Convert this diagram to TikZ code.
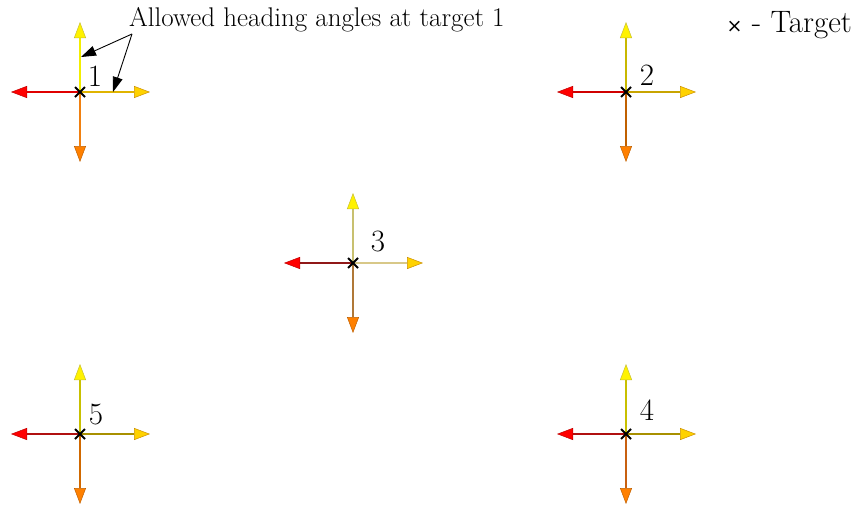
\documentclass[tikz,border=0pt]{standalone}
\usepackage{fontspec}
\newfontfamily\dejavu{DejaVu Sans}
\usetikzlibrary{arrows.meta}
\definecolor{u1}{HTML}{F2EE00}\definecolor{r1}{HTML}{E0B400}\definecolor{l1}{HTML}{E00000}\definecolor{d1}{HTML}{F08010}
\definecolor{u2}{HTML}{C8B800}\definecolor{r2}{HTML}{C8A400}\definecolor{l2}{HTML}{D00000}\definecolor{d2}{HTML}{C06000}
\definecolor{u3}{HTML}{C8C070}\definecolor{r3}{HTML}{D8C888}\definecolor{l3}{HTML}{901818}\definecolor{d3}{HTML}{B07838}
\definecolor{u4}{HTML}{C8C000}\definecolor{r4}{HTML}{A89000}\definecolor{l4}{HTML}{B01010}\definecolor{d4}{HTML}{C86010}
\definecolor{u5}{HTML}{C8C000}\definecolor{r5}{HTML}{A89000}\definecolor{l5}{HTML}{B01010}\definecolor{d5}{HTML}{D06800}
\begin{document}
\begin{tikzpicture}[x=1pt,y=-1pt,
  txt/.style={font=\fontsize{27}{32}\selectfont, inner sep=0pt},
  big/.style={font=\fontsize{31}{36}\selectfont, inner sep=0pt},
  hd/.style={line width=1.6pt},
  ahu/.style={-{Triangle[length=16pt,width=12pt,line width=0.5pt,color=yellow!75!black,fill=yellow]}},
  ahr/.style={-{Triangle[length=16pt,width=12pt,line width=0.5pt,color=orange!60!yellow!80!black,fill={rgb,255:red,255;green,210;blue,0}]}},
  ahl/.style={-{Triangle[length=16pt,width=12pt,line width=0.5pt,color=red!75!black,fill=red]}},
  ahd/.style={-{Triangle[length=16pt,width=12pt,line width=0.5pt,color=orange!75!black,fill={rgb,255:red,255;green,128;blue,0}]}},
  crs/.style={line width=1.8pt, black},
  annarr/.style={line width=0.9pt, black, -{Triangle[length=15pt,width=10pt]}}]
\useasboundingbox (0,0) rectangle (857,506);
\foreach \n/\x/\y/\lx/\ly in {1/80/92/95/76, 2/626/92/647/75, 3/353/263/378/242, 4/626/434/647/410, 5/80/434/96/415}{
  \coordinate (t\n) at (\x,\y);
  \coordinate (t\n u) at (\x,\y-70);
  \coordinate (t\n d) at (\x,\y+70);
  \coordinate (t\n l) at (\x-69,\y);
  \coordinate (t\n r) at (\x+70,\y);
  \draw[hd, draw=u\n, ahu] (t\n) -- (t\n u);
  \draw[hd, draw=r\n, ahr] (t\n) -- (t\n r);
  \draw[hd, draw=l\n, ahl] (t\n) -- (t\n l);
  \draw[hd, draw=d\n, ahd] (t\n) -- (t\n d);
  \draw[crs, shift={(t\n)}] (-5,-5) -- (5,5) (-5,5) -- (5,-5);
  \node[big] (n\n) at (\lx,\ly) {\n};
}
\node[txt, anchor=base west] (ann) at (129,26) {Allowed heading angles at target 1};
\coordinate (annA) at (132,34);
\coordinate (p1a) at (81,57);
\coordinate (p1b) at (113,92);
\draw[annarr] (annA) -- (p1a);
\draw[annarr] (annA) -- (p1b);
\node[big, anchor=base east] (leg) at (852,32) {{\dejavu\fontsize{19}{22}\selectfont ×} - Target};
\end{tikzpicture}
\end{document}
